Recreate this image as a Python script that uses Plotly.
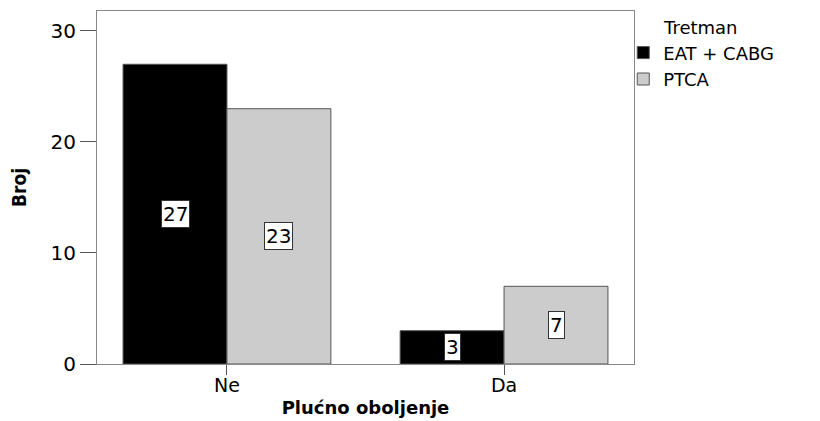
import plotly.graph_objects as go

# Podaci: broj pacijenata po plućnom oboljenju i tretmanu
kategorije = ['Ne', 'Da']
eat_cabg = [27, 3]
ptca = [23, 7]
serije = ['EAT + CABG', 'PTCA']
boje = ['#000000', '#cccccc']

FONT = 'DejaVu Sans, Liberation Sans, Arial'

fig = go.Figure()
for ime, vrijednosti, boja in zip(serije, [eat_cabg, ptca], boje):
    fig.add_trace(go.Bar(
        name=ime,
        x=kategorije,
        y=vrijednosti,
        marker=dict(color=boja, line=dict(color='#555555', width=1)),
    ))

# Oznake vrijednosti u bijelim kutijama, na sredini stupca
sirina = 0.375
for i, kat in enumerate(kategorije):
    for j, vrijednosti in enumerate([eat_cabg, ptca]):
        pomak = (j - 0.5) * sirina
        fig.add_annotation(
            x=i + pomak, y=vrijednosti[i] / 2,
            text=str(vrijednosti[i]),
            showarrow=False,
            font=dict(size=20, color='black', family=FONT),
            bgcolor='white', bordercolor='#333333', borderwidth=1, borderpad=1,
        )

# stranica ima marginu 8 px, pa je slika manja za toliko
fig.update_layout(
    width=812, height=413,
    barmode='group', bargap=0.25, bargroupgap=0,
    plot_bgcolor='white', paper_bgcolor='white',
    margin=dict(l=89, r=186, t=3, b=57),
    font=dict(family=FONT, color='black', size=20),
    legend=dict(
        x=0.98, y=1.0, xanchor='left', yanchor='top',
        title=dict(text='Tretman', side='top center', font=dict(size=18)),
        font=dict(size=18),
        tracegroupgap=0, itemwidth=30,
        bgcolor='rgba(0,0,0,0)',
    ),
)

fig.update_xaxes(
    range=[-0.469, 1.469], automargin=False,
    showline=True, linecolor='#888888', linewidth=1, mirror=True,
    ticks='outside', ticklen=10, tickcolor='#555555',
    tickfont=dict(size=19), ticklabelstandoff=-6,
    title=dict(text='<b>Plućno oboljenje</b>', font=dict(size=18), standoff=6),
)
fig.update_yaxes(
    range=[0, 31.8], dtick=10, automargin=False,
    showgrid=False, zeroline=False,
    showline=True, linecolor='#888888', linewidth=1, mirror=True,
    ticks='outside', ticklen=16, tickcolor='#555555',
    tickfont=dict(size=20),
    title=dict(text='<b>Broj</b>', standoff=22,
               font=dict(size=19, family='DejaVu Sans Condensed, Liberation Sans Narrow, Arial Narrow')),
)

fig.write_html('out.html')
